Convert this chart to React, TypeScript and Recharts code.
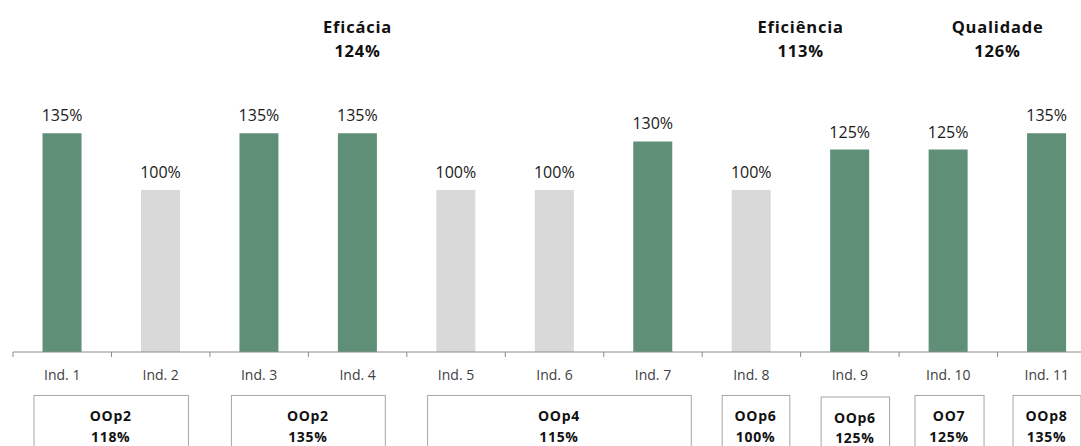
import React from 'react';
import { BarChart, Bar, XAxis, YAxis, Cell, LabelList, ReferenceArea } from 'recharts';

// Indicator results (% of target)
const indicators = ['Ind. 1', 'Ind. 2', 'Ind. 3', 'Ind. 4', 'Ind. 5', 'Ind. 6', 'Ind. 7', 'Ind. 8', 'Ind. 9', 'Ind. 10', 'Ind. 11'];
const results = [135, 100, 135, 135, 100, 100, 130, 100, 125, 125, 135];

// Dimension summaries shown above the bars
const dimensionNames = ['Eficácia', 'Eficiência', 'Qualidade'];
const dimensionScores = [124, 113, 126];
const dimensionFirst = ['Ind. 1', 'Ind. 8', 'Ind. 10'];
const dimensionLast = ['Ind. 7', 'Ind. 9', 'Ind. 11'];

// Operational objectives shown below the axis
const objectiveCodes = ['OOp2', 'OOp2', 'OOp4', 'OOp6', 'OOp6', 'OO7', 'OOp8'];
const objectiveScores = [118, 135, 115, 100, 125, 125, 135];
const objectiveFirst = ['Ind. 1', 'Ind. 3', 'Ind. 5', 'Ind. 8', 'Ind. 9', 'Ind. 10', 'Ind. 11'];
const objectiveLast = ['Ind. 2', 'Ind. 4', 'Ind. 7', 'Ind. 8', 'Ind. 9', 'Ind. 10', 'Ind. 11'];

// box layout: [left inset, right inset, top drop] relative to the category span
const boxInsets = [[20.5, 22, 0], [21, 22, 0], [20.3, 11.4, 0], [19.5, 11.3, 0], [20, 10, 1.6], [15.4, 14, 0], [15, 15.5, 0]];

const GREEN = '#5f8f76';
const GREY = '#d9d9d9';
const FONT = '"Open Sans", "Noto Sans", sans-serif';

const data = indicators.map((name, i) => ({ name, value: results[i] }));

const IndicatorTick = (props: any) => {
  const { x, y, payload, index } = props;
  const half = payload.offset || 0;
  const axisY = y - 5;
  return (
    <g>
      <line x1={x - half} x2={x - half} y1={axisY} y2={axisY + 5} stroke="#8c8c8c" />
      {index === indicators.length - 1 && (
        <line x1={x + half} x2={x + half} y1={axisY} y2={axisY + 5} stroke="#8c8c8c" />
      )}
      <text x={x} y={axisY + 27.5} textAnchor="middle" fill="#404040" fontSize={14} fontFamily={FONT}>
        {payload.value}
      </text>
    </g>
  );
};

const dimensionShape = (i: number) => (p: any) => {
  const cx = p.x + p.width / 2;
  return (
    <g>
      <text x={cx} y={p.y + 5.3} textAnchor="middle" fontSize={16.5} fontWeight={700} fontFamily={FONT} letterSpacing={0.8} fill="#111">
        {dimensionNames[i]}
      </text>
      <text x={cx} y={p.y + 29.3} textAnchor="middle" fontSize={16.5} fontWeight={700} fontFamily={FONT} letterSpacing={0.8} fill="#111">
        {dimensionScores[i]}%
      </text>
    </g>
  );
};

const objectiveShape = (i: number) => (p: any) => {
  const [l, r, drop] = boxInsets[i];
  const x = p.x + l;
  const w = p.width - l - r;
  const y = p.y + drop;
  const cx = x + w / 2;
  return (
    <g>
      <rect x={x + 0.5} y={y + 0.5} width={w} height={p.height} fill="#fff" stroke="#a6a6a6" strokeWidth={1} />
      <text x={cx} y={y + 26} textAnchor="middle" fontSize={14} fontWeight={700} fontFamily={FONT} letterSpacing={0.7} fill="#111">
        {objectiveCodes[i]}
      </text>
      <text x={cx} y={y + 46.6} textAnchor="middle" fontSize={14} fontWeight={700} fontFamily={FONT} letterSpacing={0.7} fill="#111">
        {objectiveScores[i]}%
      </text>
    </g>
  );
};

export default function App() {
  return (
    <div style={{ width: 1081, height: 446, overflow: 'hidden', background: '#fff' }}>
      <style>{'body { margin: 0; }'}</style>
      <BarChart
        width={1096}
        height={446}
        data={data}
        margin={{ top: 28, right: 0, bottom: 64, left: 13 }}
        barCategoryGap="30%"
      >
        <XAxis
          dataKey="name"
          height={30}
          axisLine={{ stroke: '#8c8c8c' }}
          tickLine={false}
          tickSize={5}
          tickMargin={0}
          interval={0}
          tick={<IndicatorTick />}
        />
        <YAxis hide domain={[0, 200]} />
        {dimensionNames.map((n, i) => (
          <ReferenceArea
            key={n}
            x1={dimensionFirst[i]}
            x2={dimensionLast[i]}
            y1={190}
            y2={200}
            ifOverflow="visible"
            shape={dimensionShape(i)}
          />
        ))}
        {objectiveCodes.map((c, i) => (
          <ReferenceArea
            key={c + i}
            x1={objectiveFirst[i]}
            x2={objectiveLast[i]}
            y1={-26.5}
            y2={-70}
            ifOverflow="visible"
            shape={objectiveShape(i)}
          />
        ))}
        <Bar dataKey="value" isAnimationActive={false}>
          {data.map((d) => (
            <Cell key={d.name} fill={d.value > 100 ? GREEN : GREY} />
          ))}
          <LabelList
            dataKey="value"
            position="top"
            offset={12}
            formatter={(v: any) => `${v}%`}
            fill="#1a1a1a"
            fontSize={16}
            fontFamily={FONT}
          />
        </Bar>
      </BarChart>
    </div>
  );
}
